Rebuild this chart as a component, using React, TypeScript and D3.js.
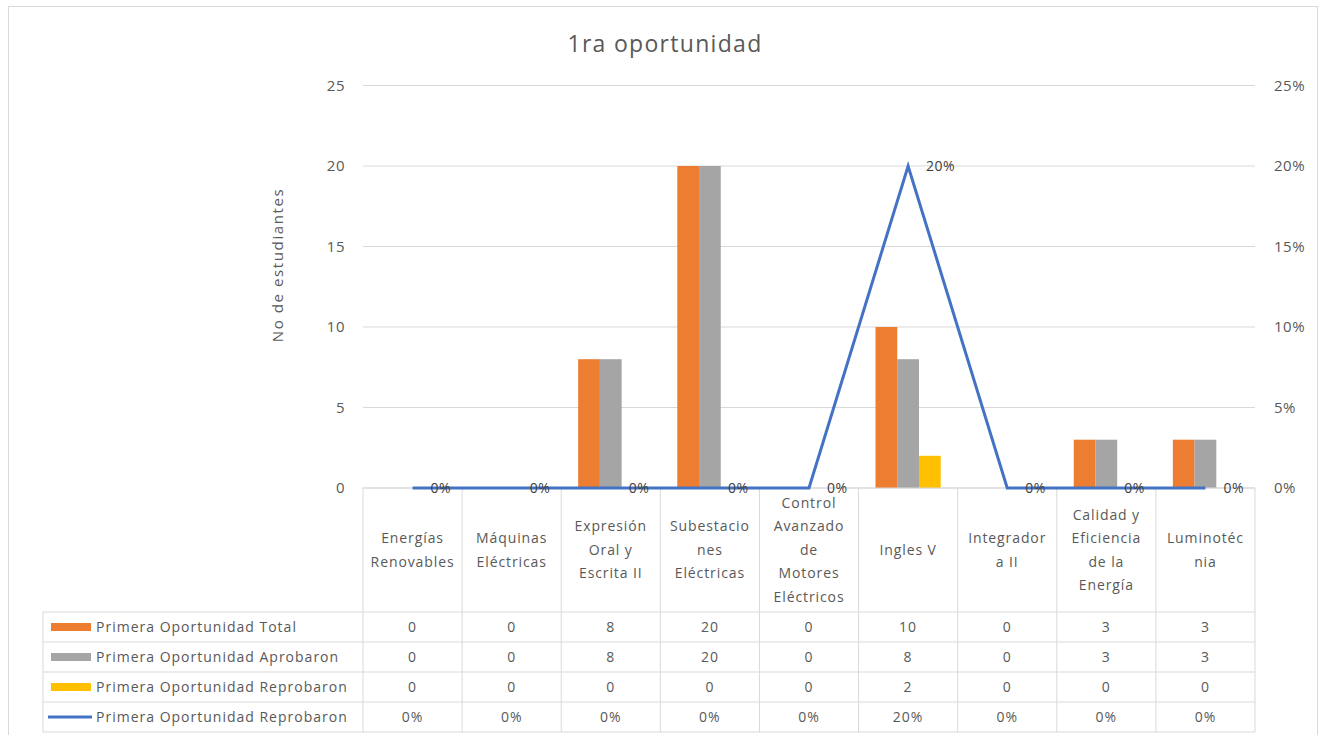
import React from "react";
import * as d3 from "d3";

const categories = [
  "Energías Renovables",
  "Máquinas Eléctricas",
  "Expresión Oral y Escrita II",
  "Subestaciones Eléctricas",
  "Control Avanzado de Motores Eléctricos",
  "Ingles V",
  "Integradora II",
  "Calidad y Eficiencia de la Energía",
  "Luminotécnia",
];
const categoryLines = [
  ["Energías", "Renovables"],
  ["Máquinas", "Eléctricas"],
  ["Expresión", "Oral y", "Escrita II"],
  ["Subestacio", "nes", "Eléctricas"],
  ["Control", "Avanzado", "de", "Motores", "Eléctricos"],
  ["Ingles V"],
  ["Integrador", "a II"],
  ["Calidad y", "Eficiencia", "de la", "Energía"],
  ["Luminotéc", "nia"],
];
const totalValues = [0, 0, 8, 20, 0, 10, 0, 3, 3];
const aprobaronValues = [0, 0, 8, 20, 0, 8, 0, 3, 3];
const reprobaronValues = [0, 0, 0, 0, 0, 2, 0, 0, 0];
const reprobaronPct = [0, 0, 0, 0, 0, 0.2, 0, 0, 0];
const leftTicks = [0, 5, 10, 15, 20, 25];
const rightTicks = [0, 0.05, 0.1, 0.15, 0.2, 0.25];
const seriesNames = [
  "Primera Oportunidad Total",
  "Primera Oportunidad Aprobaron",
  "Primera Oportunidad Reprobaron",
  "Primera Oportunidad Reprobaron",
];
const colors = ["#ED7D31", "#A5A5A5", "#FFC000", "#4472C4"];

const FONT = "'Open Sans', 'Noto Sans', sans-serif";
const TXT = "#595959";
const GRID = "#d9d9d9";

export default function App() {
  const left = 363, right = 1255, top = 85.5, bottom = 488;
  const x = d3.scaleBand<string>().domain(categories).range([left, right]).paddingInner(0).paddingOuter(0);
  const bw = x.bandwidth();
  const barSeries = ["t", "a", "r"];
  const xs = d3.scaleBand<string>().domain(barSeries).range([0, bw]).paddingInner(0).paddingOuter(0.78);
  const y = d3.scaleLinear().domain([0, 25]).range([bottom, top]);
  const y2 = d3.scaleLinear().domain([0, 0.25]).range([bottom, top]);
  const barData = [totalValues, aprobaronValues, reprobaronValues];
  const pctFmt = d3.format(".0%");
  const line = d3
    .line<number>()
    .x((_, i) => (x(categories[i]) as number) + bw / 2)
    .y((d) => y2(d));

  const rowTop = 612;
  const rowH = 30;
  const tableLeft = 43;
  const rows = [
    totalValues.map(String),
    aprobaronValues.map(String),
    reprobaronValues.map(String),
    reprobaronPct.map((v) => pctFmt(v)),
  ];
  const tableBottom = rowTop + rowH * rows.length;
  const textStyle = { fontFamily: FONT, fill: TXT, letterSpacing: 1.0 } as any;

  return (
    <svg width={1321} height={735} style={{ position: "absolute", left: 0, top: 0, background: "#fff" }}>
      <rect x={8.5} y={6.5} width={1309} height={740} fill="#fff" stroke={GRID} />
      <text x={665} y={52} textAnchor="middle" fontSize={23} style={{ ...textStyle, letterSpacing: 1.3 }}>
        1ra oportunidad
      </text>
      {/* gridlines */}
      {leftTicks.map((t) => (
        <line key={"g" + t} x1={left} x2={right} y1={y(t)} y2={y(t)} stroke={GRID} strokeWidth={1} />
      ))}
      {leftTicks.map((t) => (
        <text key={"l" + t} x={345} y={y(t)} dy="0.35em" textAnchor="end" fontSize={15} style={{ ...textStyle, letterSpacing: 0.5 }}>
          {t}
        </text>
      ))}
      {rightTicks.map((t) => (
        <text key={"r" + t} x={1274} y={y2(t)} dy="0.35em" textAnchor="start" fontSize={15} style={{ ...textStyle, letterSpacing: 0.5 }}>
          {pctFmt(t)}
        </text>
      ))}
      <text
        transform={`translate(278,265) rotate(-90)`}
        textAnchor="middle"
        dy="0.35em"
        fontSize={15}
        style={{ ...textStyle, letterSpacing: 1.6 }}
      >
        No de estudiantes
      </text>
      {/* bars */}
      {barData.map((vals, si) =>
        vals.map((v, i) =>
          v > 0 ? (
            <rect
              key={`b${si}-${i}`}
              x={(x(categories[i]) as number) + (xs(barSeries[si]) as number)}
              y={y(v)}
              width={xs.bandwidth()}
              height={bottom - y(v)}
              fill={colors[si]}
            />
          ) : null
        )
      )}
      {/* table grid */}
      {categories.map((c, i) => (
        <line key={"v" + i} x1={x(c) as number} x2={x(c) as number} y1={bottom} y2={tableBottom} stroke={GRID} />
      ))}
      <line x1={right} x2={right} y1={bottom} y2={tableBottom} stroke={GRID} />
      <line x1={tableLeft} x2={tableLeft} y1={rowTop} y2={tableBottom} stroke={GRID} />
      {rows.map((_, r) => (
        <line key={"h" + r} x1={tableLeft} x2={right} y1={rowTop + r * rowH} y2={rowTop + r * rowH} stroke={GRID} />
      ))}
      <line x1={tableLeft} x2={right} y1={tableBottom} y2={tableBottom} stroke={GRID} />
      {/* axis line */}
      <line x1={left} x2={right} y1={bottom} y2={bottom} stroke={GRID} />
      {/* category labels */}
      {categoryLines.map((lines, i) => {
        const cx = (x(categories[i]) as number) + bw / 2;
        const lh = 23.5;
        const start = 550 - ((lines.length - 1) * lh) / 2;
        return (
          <text key={"c" + i} textAnchor="middle" fontSize={14} style={{ ...textStyle, letterSpacing: 0.9 }}>
            {lines.map((ln, k) => (
              <tspan key={k} x={cx} y={start + k * lh} dy="0.35em">
                {ln}
              </tspan>
            ))}
          </text>
        );
      })}
      {/* table values */}
      {rows.map((vals, r) =>
        vals.map((v, i) => (
          <text
            key={`t${r}-${i}`}
            x={(x(categories[i]) as number) + bw / 2}
            y={rowTop + r * rowH + rowH / 2}
            dy="0.35em"
            textAnchor="middle"
            fontSize={14}
            style={textStyle}
          >
            {v}
          </text>
        ))
      )}
      {/* legend keys + names */}
      {seriesNames.map((n, r) => {
        const cy = rowTop + r * rowH + rowH / 2;
        return (
          <g key={"k" + r}>
            {r < 3 ? (
              <rect x={51} y={cy - 4} width={40} height={8} fill={colors[r]} />
            ) : (
              <line x1={48} x2={92} y1={cy} y2={cy} stroke={colors[3]} strokeWidth={3} />
            )}
            <text x={96} y={cy} dy="0.35em" fontSize={14} style={textStyle}>
              {n}
            </text>
          </g>
        );
      })}
      {/* line series */}
      <path d={line(reprobaronPct) as string} fill="none" stroke={colors[3]} strokeWidth={3} strokeLinejoin="miter" />
      {reprobaronPct.map((v, i) => (
        <text
          key={"p" + i}
          x={(x(categories[i]) as number) + bw / 2 + 18}
          y={y2(v)}
          dy="0.35em"
          fontSize={14}
          style={{ ...textStyle, fill: "#404040", letterSpacing: 0.5 }}
        >
          {pctFmt(v)}
        </text>
      ))}
    </svg>
  );
}
